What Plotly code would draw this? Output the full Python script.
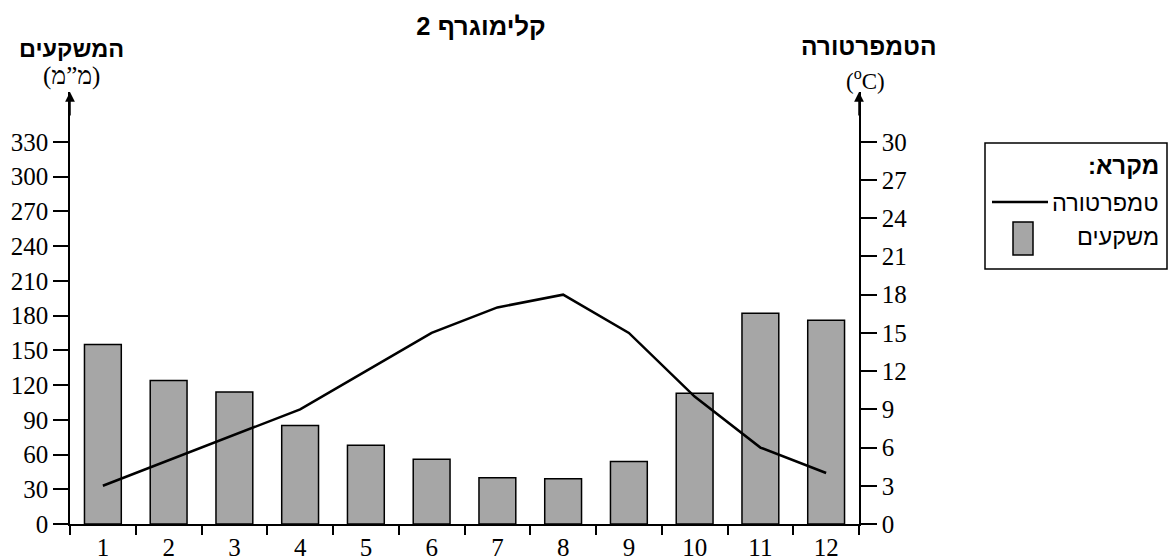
import plotly.graph_objects as go

months = [str(m) for m in range(1, 13)]
precip_mm = [155, 124, 114, 85, 68, 56, 40, 39, 54, 113, 182, 176]
temp_c = [3, 5, 7, 9, 12, 15, 17, 18, 15, 10, 6, 4]
precip_ticks = list(range(0, 331, 30))
temp_ticks = list(range(0, 31, 3))

W, H = 1172, 557
L, R, T, B = 70, 313, 92, 33
PW, PH = W - L - R, H - T - B
Y1_MAX = 373
Y2_MAX = Y1_MAX / 11

def px(x):
    return (x - L) / PW

def py(y):
    return (H - B - y) / PH

SERIF = "Liberation Serif"
SANS = "Liberation Sans"
BAR_FILL = "#a6a6a6"

fig = go.Figure()
fig.add_trace(go.Bar(
    x=months, y=precip_mm, width=0.56,
    marker=dict(color=BAR_FILL, line=dict(color="black", width=1.5)),
    yaxis="y", name="משקעים", showlegend=False,
))
fig.add_trace(go.Scatter(
    x=months, y=temp_c, mode="lines",
    line=dict(color="black", width=2.5),
    yaxis="y2", name="טמפרטורה", showlegend=False,
))

axis_common = dict(
    showline=True, linecolor="black", linewidth=1.5,
    ticks="outside", tickcolor="black", tickwidth=1.5,
    showgrid=False, zeroline=False, automargin=False,
    tickfont=dict(family=SERIF, size=25, color="black"),
)

fig.update_layout(
    width=W, height=H,
    margin=dict(l=L, r=R, t=T, b=B),
    paper_bgcolor="white", plot_bgcolor="white",
    title=dict(text="קלימוגרף 2", x=481 / W, y=1 - 26 / H,
               xanchor="center", yanchor="middle", automargin=False,
               font=dict(family=SANS, size=25.5, color="black", weight="bold")),
    xaxis=dict(type="category", tickson="boundaries", ticklen=9,
               range=[-0.5, 11.5], **axis_common),
    yaxis=dict(range=[0, Y1_MAX], tickvals=precip_ticks, ticklen=15,
               **axis_common),
    yaxis2=dict(range=[0, Y2_MAX], tickvals=temp_ticks, ticklen=16,
                overlaying="y", side="right", **axis_common),
)

ann = []
for xa in (0, 1):
    ann.append(dict(xref="paper", yref="paper", x=xa, y=1, ax=0, ay=25,
                    axref="pixel", ayref="pixel", text="", showarrow=True,
                    arrowhead=2, arrowsize=1.3, arrowwidth=1.5, arrowcolor="black"))

def text(t, x, y, size, family, bold=False, xanchor="center"):
    ann.append(dict(xref="paper", yref="paper", x=px(x), y=py(y), text=t,
                    showarrow=False, xanchor=xanchor, yanchor="middle",
                    font=dict(family=family, size=size, color="black",
                              weight="bold" if bold else "normal")))

text("המשקעים", 71, 49, 23.5, SANS, bold=True)
text("(מ”מ)", 71, 76, 25, SERIF)
text("הטמפרטורה", 868, 46, 24.5, SANS, bold=True)
text("(<sup>o</sup>C)", 865, 79, 23, SERIF)

text("מקרא:\u200f", 1161, 165, 24, SANS, bold=True, xanchor="right")
text("טמפרטורה", 1161, 203, 23.5, SANS, xanchor="right")
text("משקעים", 1161, 237, 23.5, SANS, xanchor="right")

shapes = [
    dict(type="rect", xref="paper", yref="paper", x0=px(985), x1=px(1167),
         y0=py(269), y1=py(143), line=dict(color="black", width=1.5)),
    dict(type="line", xref="paper", yref="paper", x0=px(992), x1=px(1048),
         y0=py(202), y1=py(202), line=dict(color="black", width=2.5)),
    dict(type="rect", xref="paper", yref="paper", x0=px(1013), x1=px(1033),
         y0=py(255), y1=py(222), fillcolor=BAR_FILL,
         line=dict(color="black", width=1.5)),
]

fig.update_layout(annotations=ann, shapes=shapes)
fig.write_html("out.html", config={"displayModeBar": False},
               post_script="document.body.style.margin='0';")
